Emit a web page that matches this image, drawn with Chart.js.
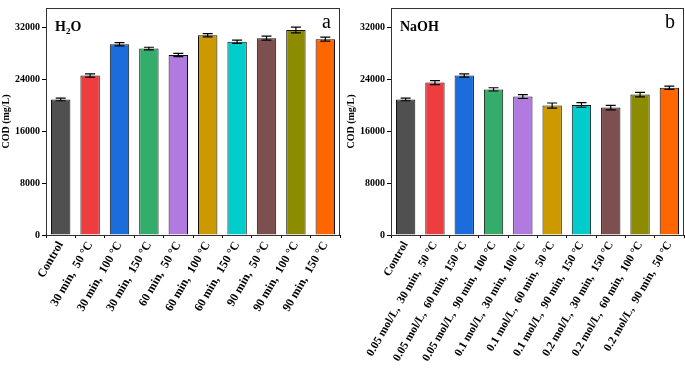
<!DOCTYPE html>
<html>
<head>
<meta charset="utf-8">
<script src="https://cdn.jsdelivr.net/npm/chart.js@4"></script>
<style>
  body { margin: 0; background: #fff; }
  .wrap { position: relative; width: 685px; height: 377px; }
  #chart-a { position: absolute; left: 0; top: 0; }
  #chart-b { position: absolute; left: 345px; top: 0; }
</style>
</head>
<body>
<div class="wrap">
  <canvas id="chart-a" width="345" height="377"></canvas>
  <canvas id="chart-b" width="340" height="377"></canvas>
</div>
<script>
const labelsA = ['Control', '30 min,  50 \u00b0C', '30 min,  100 \u00b0C', '30 min,  150 \u00b0C',
  '60 min,  50 \u00b0C', '60 min,  100 \u00b0C', '60 min,  150 \u00b0C',
  '90 min,  50 \u00b0C', '90 min,  100 \u00b0C', '90 min,  150 \u00b0C']
const valuesA = [20900, 24600, 29400, 28750, 27750, 30800, 29800, 30350, 31600, 30200]
const errorsA = [200, 250, 250, 200, 250, 250, 250, 300, 450, 300]

const labelsB = ['Control', '0.05 mol/L,  30 min,  50 \u00b0C', '0.05 mol/L,  60 min,  150 \u00b0C',
  '0.05 mol/L,  90 min,  100 \u00b0C', '0.1 mol/L,  30 min,  100 \u00b0C', '0.1 mol/L,  60 min,  50 \u00b0C',
  '0.1 mol/L,  90 min,  150 \u00b0C', '0.2 mol/L,  30 min,  150 \u00b0C', '0.2 mol/L,  60 min,  100 \u00b0C',
  '0.2 mol/L,  90 min,  50 \u00b0C']
const valuesB = [20900, 23500, 24600, 22450, 21350, 19950, 20050, 19650, 21650, 22700]
const errorsB = [200, 300, 250, 250, 300, 400, 350, 350, 350, 250]

const yTicks = [0, 8000, 16000, 24000, 32000]
const barColors = ['#505050', '#EE3D3E', '#1B6DDB', '#35AD6A', '#B07ADE',
  '#CC9900', '#00CCCC', '#7D4F4F', '#8D8C00', '#FF6600']

const serif = '"Liberation Serif", "Times New Roman", serif'

// error bars, drawn from the data through the y scale
const errorBars = {
  id: 'errorBars',
  afterDatasetsDraw(chart, args, opts) {
    const ctx = chart.ctx
    const y = chart.scales.y
    const meta = chart.getDatasetMeta(0)
    const vals = chart.data.datasets[0].data
    ctx.save()
    ctx.strokeStyle = '#000'
    ctx.lineWidth = 1.2
    meta.data.forEach((bar, i) => {
      const top = y.getPixelForValue(vals[i] + opts.errors[i])
      const bot = y.getPixelForValue(vals[i] - opts.errors[i])
      ctx.beginPath()
      ctx.moveTo(bar.x, top); ctx.lineTo(bar.x, bot)
      ctx.moveTo(bar.x - 5, top); ctx.lineTo(bar.x + 5, top)
      ctx.moveTo(bar.x - 5, bot); ctx.lineTo(bar.x + 5, bot)
      ctx.stroke()
    })
    ctx.restore()
  }
}

// frame box and panel texts
const panelText = {
  id: 'panelText',
  afterDraw(chart, args, opts) {
    const ctx = chart.ctx
    const a = chart.chartArea
    ctx.save()
    ctx.strokeStyle = '#333'
    ctx.lineWidth = 1
    ctx.strokeRect(a.left + 0.5, a.top + 0.5, a.right - a.left - 1, a.bottom - a.top)
    ctx.fillStyle = '#000'
    ctx.textBaseline = 'alphabetic'
    ctx.font = 'bold 14px ' + serif
    let x = a.left + 9
    const base = a.top + 23
    if (opts.title === 'H2O') {
      ctx.fillText('H', x, base)
      x += ctx.measureText('H').width
      ctx.font = 'bold 9px ' + serif
      ctx.fillText('2', x, base + 3)
      x += ctx.measureText('2').width
      ctx.font = 'bold 14px ' + serif
      ctx.fillText('O', x, base)
    } else {
      ctx.fillText(opts.title, x, base)
    }
    ctx.font = '20px ' + serif
    ctx.textAlign = 'right'
    ctx.fillText(opts.letter, a.right - 9, a.top + 20)
    ctx.restore()
  }
}

function makeChart(canvasId, labels, values, errors, title, letter, xFont, padRight) {
  new Chart(document.getElementById(canvasId).getContext('2d'), {
    type: 'bar',
    data: {
      labels: labels,
      datasets: [{
        data: values,
        backgroundColor: barColors,
        borderColor: '#111',
        borderWidth: 1,
        barPercentage: 0.66,
        categoryPercentage: 1
      }]
    },
    options: {
      responsive: false,
      animation: false,
      layout: { padding: { top: 2, right: padRight, left: 0, bottom: 0 } },
      plugins: {
        legend: { display: false },
        tooltip: { enabled: false },
        errorBars: { errors: errors },
        panelText: { title: title, letter: letter }
      },
      scales: {
        x: {
          offset: true,
          grid: { display: true, drawOnChartArea: false, offset: true, tickLength: 3, color: '#000' },
          border: { display: true, color: '#000' },
          ticks: {
            autoSkip: false, maxRotation: 60, minRotation: 60, padding: 1,
            color: '#000', font: { family: serif, weight: 'bold', size: xFont }
          },
          afterFit(scale) { scale.height = 142 }
        },
        y: {
          min: 0, max: 35000,
          ticks: {
            stepSize: 8000, padding: 2, color: '#000',
            font: { family: serif, weight: 'bold', size: 10 },
            callback: v => String(v)
          },
          afterBuildTicks(scale) {
            scale.ticks = yTicks.map(v => ({ value: v }))
          },
          grid: { display: true, drawOnChartArea: false, tickLength: 4, color: '#000' },
          border: { display: true, color: '#000' },
          title: {
            display: true, text: 'COD (mg/L)', color: '#000', padding: 0,
            font: { family: serif, weight: 'bold', size: 10 }
          },
          afterFit(scale) { scale.width = 46 }
        }
      }
    },
    plugins: [errorBars, panelText]
  })
}

makeChart('chart-a', labelsA, valuesA, errorsA, 'H2O', 'a', 12, 5)
makeChart('chart-b', labelsB, valuesB, errorsB, 'NaOH', 'b', 11.5, 1)
</script>
</body>
</html>
